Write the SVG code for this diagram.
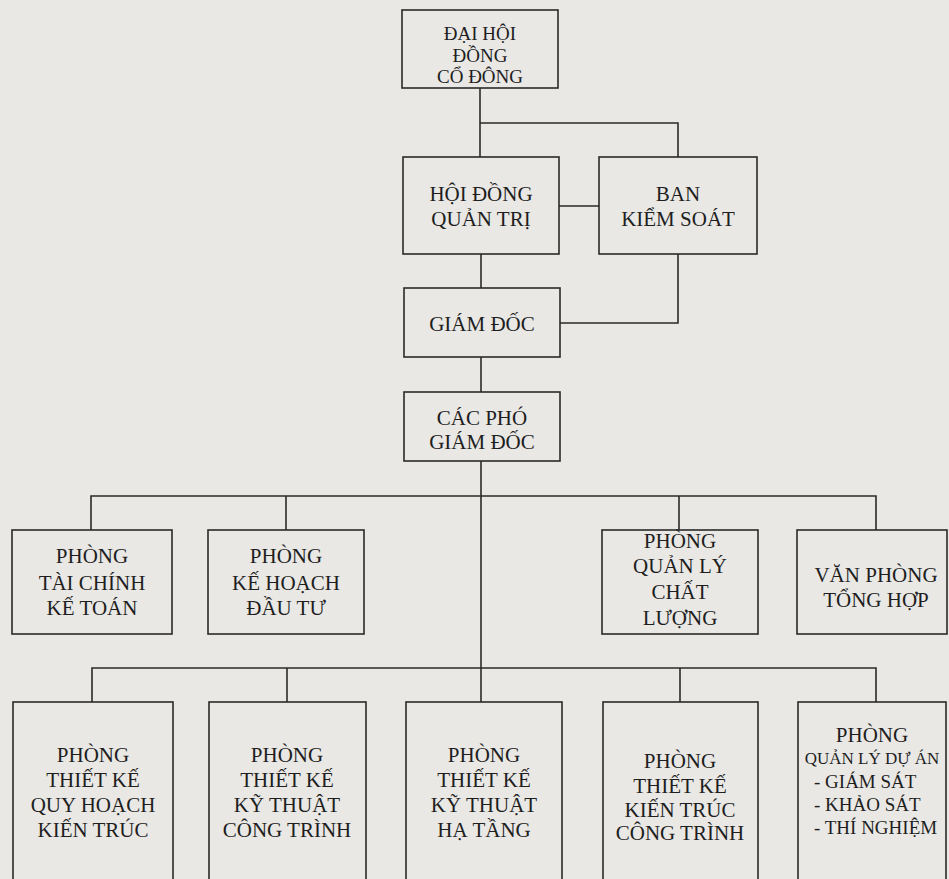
<svg xmlns="http://www.w3.org/2000/svg" width="949" height="879" viewBox="0 0 949 879">
<style>
.bg{fill:#e9e8e5}
.box{fill:none;stroke:#2a2a2a;stroke-width:1.6}
.ln{fill:none;stroke:#2a2a2a;stroke-width:1.6}
text{font-family:"Liberation Serif","Times New Roman",serif;font-size:21px;fill:#1e1e1e;text-anchor:middle}
.s{font-size:19px}
.d{font-size:19px;text-anchor:start}
.c{font-size:17px}
</style>
<rect class="bg" x="0" y="0" width="949" height="879"/>
<g id="connectors">
<path class="ln" d="M480,88 V157"/>
<path class="ln" d="M480,123 H678 V157"/>
<path class="ln" d="M559,206 H599"/>
<path class="ln" d="M678,254 V323 H560"/>
<path class="ln" d="M481,254 V288"/>
<path class="ln" d="M481,357 V392"/>
<path class="ln" d="M481,461 V702"/>
<path class="ln" d="M91,530 V496 H876 V530"/>
<path class="ln" d="M286,496 V530"/>
<path class="ln" d="M679,496 V530"/>
<path class="ln" d="M92,702 V668 H876 V702"/>
<path class="ln" d="M287,668 V702"/>
<path class="ln" d="M680,668 V702"/>
</g>
<g id="dai-hoi-dong-co-dong">
<rect class="box" x="402" y="10" width="156" height="78"/>
<text class="s" x="480" y="40">ĐẠI HỘI</text>
<text class="s" x="480" y="62">ĐỒNG</text>
<text class="s" x="480" y="83">CỔ ĐÔNG</text>
</g>
<g id="hoi-dong-quan-tri">
<rect class="box" x="403" y="157" width="156" height="97"/>
<text x="481" y="201">HỘI ĐỒNG</text>
<text x="481" y="226">QUẢN TRỊ</text>
</g>
<g id="ban-kiem-soat">
<rect class="box" x="599" y="157" width="158" height="97"/>
<text x="678" y="201">BAN</text>
<text x="678" y="226">KIỂM SOÁT</text>
</g>
<g id="giam-doc">
<rect class="box" x="404" y="288" width="156" height="69"/>
<text x="482" y="331">GIÁM ĐỐC</text>
</g>
<g id="cac-pho-giam-doc">
<rect class="box" x="404" y="392" width="156" height="69"/>
<text x="482" y="425">CÁC PHÓ</text>
<text x="482" y="449">GIÁM ĐỐC</text>
</g>
<g id="tai-chinh-ke-toan">
<rect class="box" x="12" y="530" width="160" height="104"/>
<text x="92" y="563">PHÒNG</text>
<text x="92" y="590">TÀI CHÍNH</text>
<text x="92" y="615">KẾ TOÁN</text>
</g>
<g id="ke-hoach-dau-tu">
<rect class="box" x="208" y="530" width="156" height="104"/>
<text x="286" y="563">PHÒNG</text>
<text x="286" y="590">KẾ HOẠCH</text>
<text x="286" y="615">ĐẦU TƯ</text>
</g>
<g id="quan-ly-chat-luong">
<rect class="box" x="602" y="530" width="156" height="104"/>
<text x="680" y="548">PHÒNG</text>
<text x="680" y="573">QUẢN LÝ</text>
<text x="680" y="599">CHẤT</text>
<text x="680" y="625">LƯỢNG</text>
</g>
<g id="van-phong-tong-hop">
<rect class="box" x="797" y="530" width="150" height="104"/>
<text x="876" y="582">VĂN PHÒNG</text>
<text x="876" y="607">TỔNG HỢP</text>
</g>
<g id="tk-quy-hoach-kien-truc">
<rect class="box" x="13" y="702" width="160" height="190"/>
<text x="93" y="762">PHÒNG</text>
<text x="93" y="787">THIẾT KẾ</text>
<text x="93" y="812">QUY HOẠCH</text>
<text x="93" y="837">KIẾN TRÚC</text>
</g>
<g id="tk-ky-thuat-cong-trinh">
<rect class="box" x="209" y="702" width="157" height="190"/>
<text x="287" y="762">PHÒNG</text>
<text x="287" y="787">THIẾT KẾ</text>
<text x="287" y="812">KỸ THUẬT</text>
<text x="287" y="837">CÔNG TRÌNH</text>
</g>
<g id="tk-ky-thuat-ha-tang">
<rect class="box" x="406" y="702" width="156" height="190"/>
<text x="484" y="762">PHÒNG</text>
<text x="484" y="787">THIẾT KẾ</text>
<text x="484" y="812">KỸ THUẬT</text>
<text x="484" y="837">HẠ TẦNG</text>
</g>
<g id="tk-kien-truc-cong-trinh">
<rect class="box" x="603" y="702" width="155" height="190"/>
<text x="680" y="768">PHÒNG</text>
<text x="680" y="793">THIẾT KẾ</text>
<text x="680" y="817">KIẾN TRÚC</text>
<text x="680" y="840">CÔNG TRÌNH</text>
</g>
<g id="quan-ly-du-an">
<rect class="box" x="798" y="702" width="148" height="190"/>
<text x="872" y="742">PHÒNG</text>
<text class="c" x="872" y="764">QUẢN LÝ DỰ ÁN</text>
<text class="d" x="814" y="788">- GIÁM SÁT</text>
<text class="d" x="814" y="811">- KHẢO SÁT</text>
<text class="d" x="814" y="834">- THÍ NGHIỆM</text>
</g>
</svg>
